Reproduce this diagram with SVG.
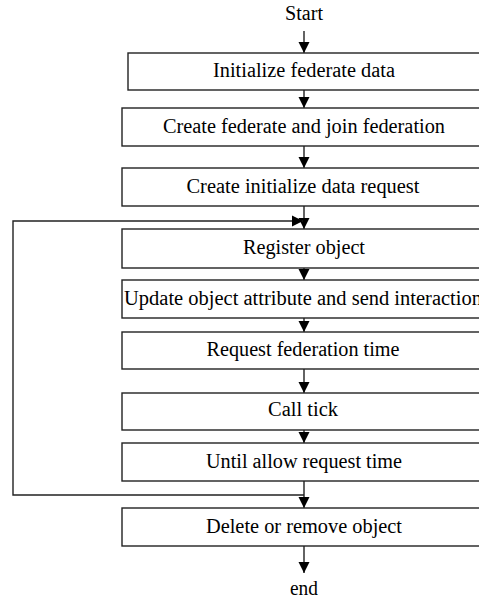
<svg xmlns="http://www.w3.org/2000/svg" width="479" height="600" viewBox="0 0 479 600">
<defs>
<style>
.box{fill:#fff;stroke:#222;stroke-width:1.4}
.lbl{font-family:"Liberation Serif","Times New Roman",serif;font-size:20px;fill:#000;text-anchor:middle}
.ln{fill:none;stroke:#222;stroke-width:1.4}
</style>
<marker id="ah" markerUnits="userSpaceOnUse" markerWidth="12" markerHeight="12" refX="11" refY="6" orient="auto">
<path d="M0,0.5 L11,6 L0,11.5 Z" fill="#000"/>
</marker>
</defs>
<rect width="479" height="600" fill="#fff"/>
<g id="connectors">
<line class="ln" x1="304" y1="31" x2="304" y2="53" marker-end="url(#ah)"/>
<line class="ln" x1="304" y1="90" x2="304" y2="108" marker-end="url(#ah)"/>
<line class="ln" x1="304" y1="146" x2="304" y2="168" marker-end="url(#ah)"/>
<line class="ln" x1="304" y1="206" x2="304" y2="229" marker-end="url(#ah)"/>
<line class="ln" x1="304" y1="268" x2="304" y2="280" marker-end="url(#ah)"/>
<line class="ln" x1="304" y1="318" x2="304" y2="332" marker-end="url(#ah)"/>
<line class="ln" x1="304" y1="369" x2="304" y2="393" marker-end="url(#ah)"/>
<line class="ln" x1="304" y1="430" x2="304" y2="443" marker-end="url(#ah)"/>
<line class="ln" x1="304" y1="481" x2="304" y2="508" marker-end="url(#ah)"/>
<line class="ln" x1="304" y1="546" x2="304" y2="573" marker-end="url(#ah)"/>
<polyline class="ln" points="304,495 13,495 13,221 303,221" marker-end="url(#ah)"/>
</g>
<g id="start"><text class="lbl" x="304" y="20" textLength="38" lengthAdjust="spacingAndGlyphs">Start</text></g>
<g id="n1"><rect class="box" x="128" y="53" width="370" height="37"/><text class="lbl" x="304" y="77" textLength="182" lengthAdjust="spacingAndGlyphs">Initialize federate data</text></g>
<g id="n2"><rect class="box" x="122" y="108" width="376" height="38"/><text class="lbl" x="304" y="133" textLength="282" lengthAdjust="spacingAndGlyphs">Create federate and join federation</text></g>
<g id="n3"><rect class="box" x="122" y="168" width="376" height="38"/><text class="lbl" x="303" y="193" textLength="233" lengthAdjust="spacingAndGlyphs">Create initialize data request</text></g>
<g id="n4"><rect class="box" x="122" y="229" width="376" height="39"/><text class="lbl" x="304" y="254" textLength="122" lengthAdjust="spacingAndGlyphs">Register object</text></g>
<g id="n5"><rect class="box" x="122" y="280" width="376" height="38"/><text class="lbl" x="303" y="305" textLength="358" lengthAdjust="spacingAndGlyphs">Update object attribute and send interaction</text></g>
<g id="n6"><rect class="box" x="122" y="332" width="376" height="37"/><text class="lbl" x="303" y="356" textLength="193" lengthAdjust="spacingAndGlyphs">Request federation time</text></g>
<g id="n7"><rect class="box" x="122" y="393" width="376" height="37"/><text class="lbl" x="303" y="416" textLength="70" lengthAdjust="spacingAndGlyphs">Call tick</text></g>
<g id="n8"><rect class="box" x="122" y="443" width="376" height="38"/><text class="lbl" x="304" y="468" textLength="196" lengthAdjust="spacingAndGlyphs">Until allow request time</text></g>
<g id="n9"><rect class="box" x="122" y="508" width="376" height="38"/><text class="lbl" x="304" y="533" textLength="196" lengthAdjust="spacingAndGlyphs">Delete or remove object</text></g>
<g id="end"><text class="lbl" x="304" y="595" textLength="28" lengthAdjust="spacingAndGlyphs">end</text></g>
</svg>
